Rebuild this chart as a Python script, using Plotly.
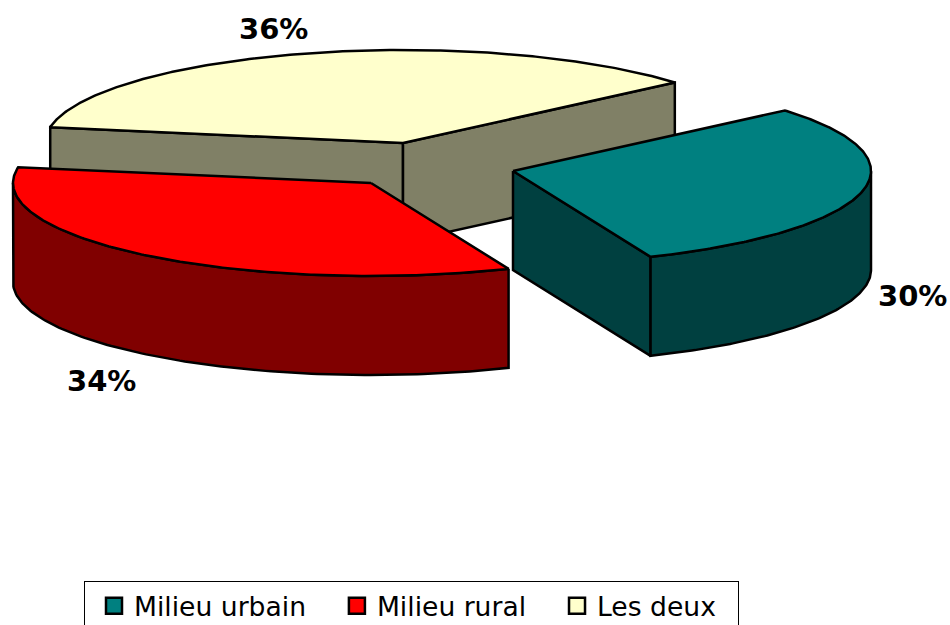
import numpy as np
import plotly.graph_objects as go

categories = ["Milieu urbain", "Milieu rural", "Les deux"]
values = [30, 34, 36]
top_colors = ["#008080", "#FF0000", "#FFFFCC"]
side_colors = ["#004040", "#800000", "#808066"]
apex_x = [513, 371, 403]
apex_y = [171, 183, 143]
label_dx = [51.5, -46.5, -34.5]
label_dy = [4, 26, -24]
draw_order = [2, 1, 0]
legend_padding = [2, 2, 2]
start_angle = -40.6
rx, ry, depth = 358, 93, 99
W, H = 950, 625
FONT = "DejaVu Sans"

total = sum(values)
edges = np.concatenate([[0], np.cumsum(values)]) / total * 360 + start_angle


def rim(i, t):
    r = np.radians(t)
    return apex_x[i] + rx * np.cos(r), apex_y[i] + ry * np.sin(r)


fig = go.Figure()


def poly(xs, ys, color):
    fig.add_trace(go.Scatter(x=list(xs), y=list(ys), mode="lines", fill="toself",
                             fillcolor=color, line=dict(color="black", width=2.5),
                             showlegend=False, hoverinfo="skip"))


annotations = []
for i in draw_order:
    t0, t1 = edges[i], edges[i + 1]
    mid = (t0 + t1) / 2
    mx, my = rim(i, mid)
    # cut faces that hang below their top edge
    for t in (t0, t1):
        ex, ey = rim(i, t)
        cross = (ex - apex_x[i]) * (my - apex_y[i]) - (ey - apex_y[i]) * (mx - apex_x[i])
        side = cross * (ex - apex_x[i])
        if side < 0:
            poly([apex_x[i], ex, ex, apex_x[i], apex_x[i]],
                 [apex_y[i], ey, ey + depth, apex_y[i] + depth, apex_y[i]], side_colors[i])
    # outer wall, front half of the ellipse only
    w0, w1 = max(t0, 0), min(t1, 180)
    if w1 > w0:
        ts = np.linspace(w0, w1, 120)
        xs, ys = rim(i, ts)
        poly(np.r_[xs, xs[::-1], xs[0]], np.r_[ys, ys[::-1] + depth, ys[0]], side_colors[i])
    # top face
    ts = np.linspace(t0, t1, 240)
    xs, ys = rim(i, ts)
    poly(np.r_[apex_x[i], xs, apex_x[i]], np.r_[apex_y[i], ys, apex_y[i]], top_colors[i])
    # label
    front = 0 < (mid % 360) < 180
    annotations.append(dict(x=mx + label_dx[i], y=my + (depth if front else 0) + label_dy[i],
                            text=f"<b>{round(values[i] / total * 100)}%</b>", showarrow=False,
                            xanchor="center", yanchor="middle",
                            font=dict(family=FONT, size=29, color="black")))

for i, name in enumerate(categories):
    fig.add_trace(go.Scatter(x=[None], y=[None], mode="markers",
                             name=name + "\u00a0" * legend_padding[i],
                             marker=dict(symbol="square", size=20, color=top_colors[i],
                                         line=dict(color="black", width=2.5))))

fig.update_layout(
    width=W, height=H, autosize=False,
    margin=dict(l=0, r=0, t=0, b=0, autoexpand=False),
    paper_bgcolor="white", plot_bgcolor="white",
    xaxis=dict(range=[0, W], visible=False, fixedrange=True),
    yaxis=dict(range=[H, 0], visible=False, fixedrange=True),
    annotations=annotations,
    legend=dict(orientation="h", x=84 / W, xanchor="left", y=1 - 581 / H, yanchor="top",
                bgcolor="white", bordercolor="black", borderwidth=1, indentation=9,
                font=dict(family=FONT, size=26.6, color="black"), itemsizing="trace",
                traceorder="normal", itemclick=False, itemdoubleclick=False),
)
fig.write_html("out.html", config=dict(displayModeBar=False),
               post_script="document.body.style.margin='0';document.documentElement.style.overflow='hidden';")
